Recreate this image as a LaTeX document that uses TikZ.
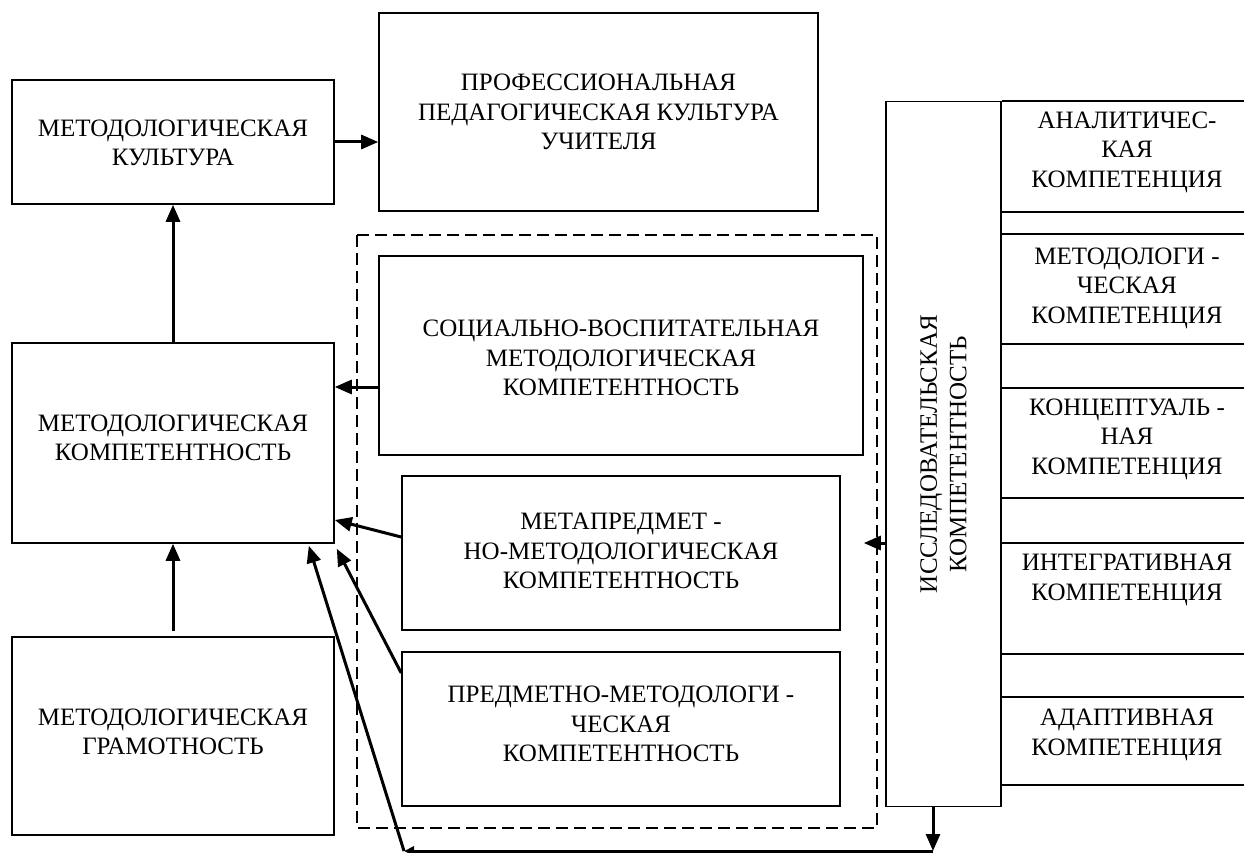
\documentclass[tikz,border=0pt]{standalone}
\usepackage{fontspec}
\setmainfont{Liberation Serif}
\usetikzlibrary{arrows.meta}
\tikzset{
  box/.style={draw, line width=1.6pt, inner sep=0pt},
  lbl/.style={align=center, inner sep=0pt, font=\fontsize{25}{29.5}\selectfont},
  arr/.style={line width=3pt, -{Triangle[length=17pt,width=14pt]}},
  tinyarr/.style={line width=3pt, -{Triangle[length=10pt,width=9pt]}},
  frame/.style={line width=2.4pt, dash pattern=on 12pt off 6pt},
  rule/.style={line width=1.6pt}
}
\begin{document}
\begin{tikzpicture}[x=1pt,y=-1pt]
\useasboundingbox (0,0) rectangle (1244,853);

% left column
\node[box, minimum width=322, minimum height=124] (cult) at (173,142) {};
\node[lbl] (cultt) at (173,143) {МЕТОДОЛОГИЧЕСКАЯ\\КУЛЬТУРА};
\node[box, minimum width=322, minimum height=200] (comp) at (173,443) {};
\node[lbl] (compt) at (173,438) {МЕТОДОЛОГИЧЕСКАЯ\\КОМПЕТЕНТНОСТЬ};
\node[box, minimum width=322, minimum height=198] (gram) at (173,736) {};
\node[lbl] (gramt) at (173,732) {МЕТОДОЛОГИЧЕСКАЯ\\ГРАМОТНОСТЬ};

% top box
\node[box, minimum width=439, minimum height=198] (prof) at (598.5,112) {};
\node[lbl] (proft) at (598.5,112)
  {ПРОФЕССИОНАЛЬНАЯ\\ПЕДАГОГИЧЕСКАЯ КУЛЬТУРА\\УЧИТЕЛЯ};

% dashed group
\draw[frame] (357,235) rectangle (877,828);
\node[box, minimum width=484, minimum height=199] (soc) at (621,355.5) {};
\node[lbl] (soct) at (621,358)
  {СОЦИАЛЬНО-ВОСПИТАТЕЛЬНАЯ\\МЕТОДОЛОГИЧЕСКАЯ\\КОМПЕТЕНТНОСТЬ};
\node[box, minimum width=438, minimum height=154] (meta) at (621,553) {};
\node[lbl] (metat) at (621,551)
  {МЕТАПРЕДМЕТ -\\НО-МЕТОДОЛОГИЧЕСКАЯ\\КОМПЕТЕНТНОСТЬ};
\node[box, minimum width=438, minimum height=154] (pred) at (621,729) {};
\node[lbl] (predt) at (621,724)
  {ПРЕДМЕТНО-МЕТОДОЛОГИ -\\ЧЕСКАЯ\\КОМПЕТЕНТНОСТЬ};

% research competence
\node[box, minimum width=115, minimum height=705] (res) at (943.5,454) {};
\node[lbl, rotate=90] (restext) at (res.center)
  {ИССЛЕДОВАТЕЛЬСКАЯ\\КОМПЕТЕНТНОСТЬ};

% component boxes on the right
\foreach \t/\b in {101/212, 234/344, 388/498, 543/654, 697/785}{
  \draw[rule] (res.east |- 0,\t) -- (1244,\t);
  \draw[rule] (res.east |- 0,\b) -- (1244,\b);
}
\node[lbl] (c1) at (1127,152) {АНАЛИТИЧЕС-\\КАЯ\\КОМПЕТЕНЦИЯ};
\node[lbl] (c2) at (1127,288) {МЕТОДОЛОГИ -\\ЧЕСКАЯ\\КОМПЕТЕНЦИЯ};
\node[lbl] (c3) at (1127,439) {КОНЦЕПТУАЛЬ -\\НАЯ\\КОМПЕТЕНЦИЯ};
\node[lbl] (c4) at (1127,580) {ИНТЕГРАТИВНАЯ\\КОМПЕТЕНЦИЯ};
\node[lbl] (c5) at (1127,735) {АДАПТИВНАЯ\\КОМПЕТЕНЦИЯ};

% connectors
\draw[arr] (cult.east) -- (prof.west |- cult.east);
\draw[arr] (comp.north) -- (cult.south);
\draw[arr] ([yshift=5pt]gram.north) -- (comp.south);
\draw[arr] (soc.west |- 0,387) -- (comp.east |- 0,387);
\draw[arr] (meta.west |- 0,537) -- (comp.east |- 0,520);
\draw[arr] (pred.west |- 0,673) -- ([shift={(2pt,-5pt)}]comp.south east);
\draw[arr] (res.west |- 0,543) -- (soc.east |- 0,543);

\coordinate (down) at (933,851);
\coordinate (corner) at (404,851);
\draw[arr] (down |- res.south) -- (down);
\draw[tinyarr] (down) -- (corner);
\draw[arr] (corner) -- ([shift={(-26pt,-2pt)}]comp.south east);
\end{tikzpicture}
\end{document}
